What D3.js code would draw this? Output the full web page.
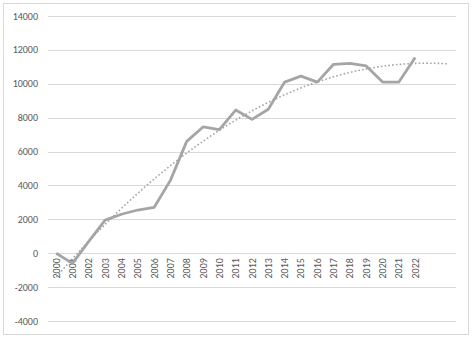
<!DOCTYPE html>
<html lang="en">
<head>
<meta charset="UTF-8">
<title>Line chart with trendline</title>
<script src="https://d3js.org/d3.v7.min.js"></script>
<style>
    body, html { margin: 0; background: #fff; }
    text { font-family: Calibri, Carlito, "Liberation Sans", Arial, sans-serif; font-size: 10px; fill: #595959; }
</style>
</head>
<body>
<script>
    const years = ["2000","2001","2002","2003","2004","2005","2006","2007","2008","2009","2010","2011",
                   "2012","2013","2014","2015","2016","2017","2018","2019","2020","2021","2022"];
    const values = [0, -600, 700, 1950, 2300, 2550, 2700, 4300, 6600, 7450, 7300, 8450,
                    7900, 8500, 10100, 10450, 10100, 11150, 11200, 11050, 10100, 10100, 11550];
    const yTicks = [-4000, -2000, 0, 2000, 4000, 6000, 8000, 10000, 12000, 14000];
    const forecastSlots = 2; // trendline is projected two periods forward

    const width = 474, height = 340;
    const margin = {top: 16, right: 18, bottom: 19, left: 48};

    const svg = d3.select("body").append("svg")
        .attr("width", width).attr("height", height);

    // outer chart border
    svg.append("rect")
        .attr("x", 3.5).attr("y", 3.5)
        .attr("width", 465).attr("height", 331)
        .attr("fill", "none").attr("stroke", "#d9d9d9");

    const slots = d3.range(years.length + forecastSlots);
    const x = d3.scaleBand().domain(slots).range([margin.left, width - margin.right]);
    const cx = i => x(i) + x.bandwidth() / 2;
    const y = d3.scaleLinear().domain([-4000, 14000]).range([height - margin.bottom, margin.top]);

    // gridlines
    svg.append("g").selectAll("line").data(yTicks).join("line")
        .attr("x1", margin.left).attr("x2", width - margin.right)
        .attr("y1", d => Math.round(y(d)) + 0.5).attr("y2", d => Math.round(y(d)) + 0.5)
        .attr("stroke", "#d9d9d9");

    // y tick labels
    svg.append("g").selectAll("text").data(yTicks).join("text")
        .attr("x", 38).attr("y", d => y(d)).attr("dy", "0.35em")
        .attr("text-anchor", "end")
        .text(d => d);

    // x labels, rotated, hanging just below the zero line
    svg.append("g").selectAll("text").data(years).join("text")
        .attr("transform", (d, i) => `translate(${cx(i)},${y(0) + 5}) rotate(-90)`)
        .attr("dy", "0.35em")
        .attr("text-anchor", "end")
        .text(d => d);

    // polynomial (order 2) trendline, least squares on slot index
    function polyfit(xs, ys, order) {
        const n = order + 1;
        const A = Array.from({length: n}, () => new Array(n + 1).fill(0));
        xs.forEach((xv, k) => {
            for (let r = 0; r < n; r++) {
                for (let c = 0; c < n; c++) A[r][c] += Math.pow(xv, r + c);
                A[r][n] += ys[k] * Math.pow(xv, r);
            }
        });
        for (let p = 0; p < n; p++) {
            let m = p;
            for (let r = p + 1; r < n; r++) if (Math.abs(A[r][p]) > Math.abs(A[m][p])) m = r;
            [A[p], A[m]] = [A[m], A[p]];
            for (let r = 0; r < n; r++) {
                if (r === p) continue;
                const f = A[r][p] / A[p][p];
                for (let c = p; c <= n; c++) A[r][c] -= f * A[p][c];
            }
        }
        return A.map((row, i) => row[n] / row[i]);
    }
    const idx = years.map((d, i) => i + 1);
    const coef = polyfit(idx, values, 2);
    const trendAt = t => coef.reduce((s, c, k) => s + c * Math.pow(t, k), 0);
    const trendPts = d3.range(0, slots.length - 1 + 0.001, 0.25).map(t => [t, trendAt(t + 1)]);

    svg.append("path")
        .datum(trendPts)
        .attr("fill", "none")
        .attr("stroke", "#a5a5a5")
        .attr("stroke-width", 1.6)
        .attr("stroke-dasharray", "1.6,2.2")
        .attr("d", d3.line().x(d => cx(0) + d[0] * x.step()).y(d => y(d[1])));

    // data line
    svg.append("path")
        .datum(values)
        .attr("fill", "none")
        .attr("stroke", "#a5a5a5")
        .attr("stroke-width", 2.8)
        .attr("stroke-linejoin", "round")
        .attr("d", d3.line().x((d, i) => cx(i)).y(d => y(d)));
</script>
</body>
</html>
